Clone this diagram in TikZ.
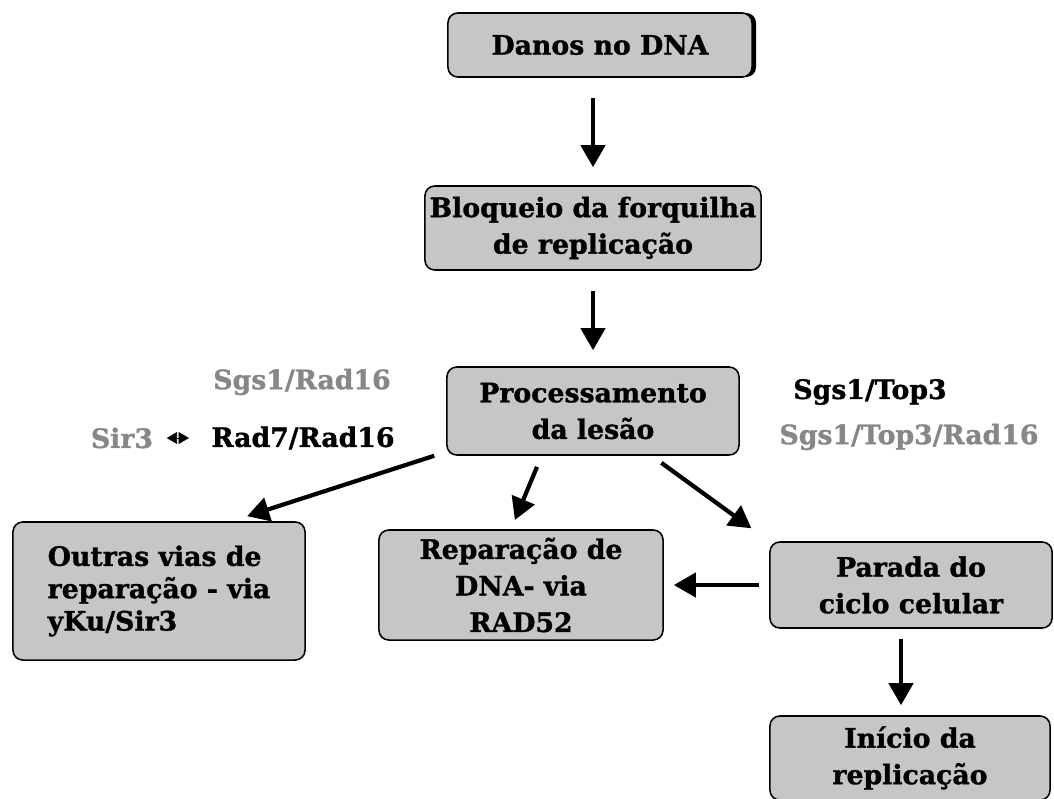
\documentclass[tikz,border=0pt]{standalone}
\usepackage{fontspec}
\setmainfont{DejaVu Serif}
\newfontfamily\heavyfont[FakeBold=1.2]{DejaVu Serif Bold}
\usepackage{xcolor}
\usepackage{tikz}
\usetikzlibrary{arrows.meta, positioning, calc, shadows}
\definecolor{boxgray}{RGB}{198, 198, 198}
\definecolor{labelgray}{RGB}{135, 135, 135}

\begin{document}
\begin{tikzpicture}[
    x=0.025cm, y=-0.025cm,
    box/.style={rectangle, draw, line width=1.1pt, rounded corners=7pt, fill=boxgray, align=center,
        font=\heavyfont\fontsize{19}{26}\selectfont, inner sep=2pt},
    lbl/.style={font=\heavyfont\fontsize{19}{22}\selectfont, inner sep=1pt},
    arrow/.style={-{Triangle[length=0.55cm, width=0.6cm]}, line width=3pt}
]
    \useasboundingbox (0,0) rectangle (1054,798);

    % Main chain
    \node[box, minimum width=7.6cm, minimum height=1.6cm,
        drop shadow={shadow xshift=0.1cm, shadow yshift=0cm, opacity=1, fill=black}] (danos) at (600,45) {Danos no DNA};
    \node[box, minimum width=8.4cm, minimum height=2.1cm] (bloq) at (593,228) {Bloqueio da forquilha\\de replicação};
    \node[box, minimum width=7.3cm, minimum height=2.2cm] (proc) at (593,411) {Processamento\\da lesão};

    % Outcomes
    \node[box, minimum width=7.3cm, minimum height=3.45cm, align=left, font=\heavyfont\fontsize{19}{23}\selectfont] (outras) at (159,591) {Outras vias de\\reparação - via\\yKu/Sir3};
    \node[box, minimum width=7.1cm, minimum height=2.75cm] (rep) at (521,585) {Reparação de\\DNA- via\\RAD52};
    \node[box, minimum width=7.05cm, minimum height=2.15cm] (parada) at (911,585) {Parada do\\ciclo celular};
    \node[box, minimum width=7cm, minimum height=2.1cm] (inicio) at (910,758) {Início da\\replicação};

    % Protein labels
    \node[lbl, text=labelgray] (sgsrad) at (302,382) {Sgs1/Rad16};
    \node[lbl, text=labelgray] (sir) at (122,438) {Sir3};
    \node[lbl] (radrad) at (303,438) {Rad7/Rad16};
    \node[lbl] (sgstop) at (870,392) {Sgs1/Top3};
    \node[lbl, text=labelgray] (sgstoprad) at (909,437) {Sgs1/Top3/Rad16};

    % Arrows
    \draw[arrow, shorten <=0.5cm, shorten >=0.45cm] (danos.south -| bloq) -- (bloq.north);
    \draw[arrow, shorten <=0.5cm, shorten >=0.4cm] (bloq) -- (proc);
    \draw[arrow] ($(proc.south west)+(-12,0)$) -- ($(outras.north)!0.6!(outras.north east)+(0,-5)$);
    \draw[arrow, shorten <=0.3cm, shorten >=0.25cm] ($(proc.south)!0.35!(proc.south west)$) -- ($(rep.north)+(-10,0)$);
    \draw[arrow, shorten <=0.3cm, shorten >=0.55cm] ($(proc.south)!0.4!(proc.south east)$) -- (parada.north west);
    \draw[arrow, shorten <=0.25cm, shorten >=0.25cm] (parada) -- (rep);
    \draw[arrow, shorten <=0.25cm, shorten >=0.25cm] ([xshift=-0.25cm]parada.south) -- ([xshift=-0.25cm]parada.south |- inicio.north);
    \draw[{Triangle[length=0.26cm, width=0.3cm]}-{Triangle[length=0.26cm, width=0.3cm]}, line width=0.6pt,
        shorten <=0.3cm, shorten >=0.52cm] (sir) -- (radrad);
\end{tikzpicture}
\end{document}
